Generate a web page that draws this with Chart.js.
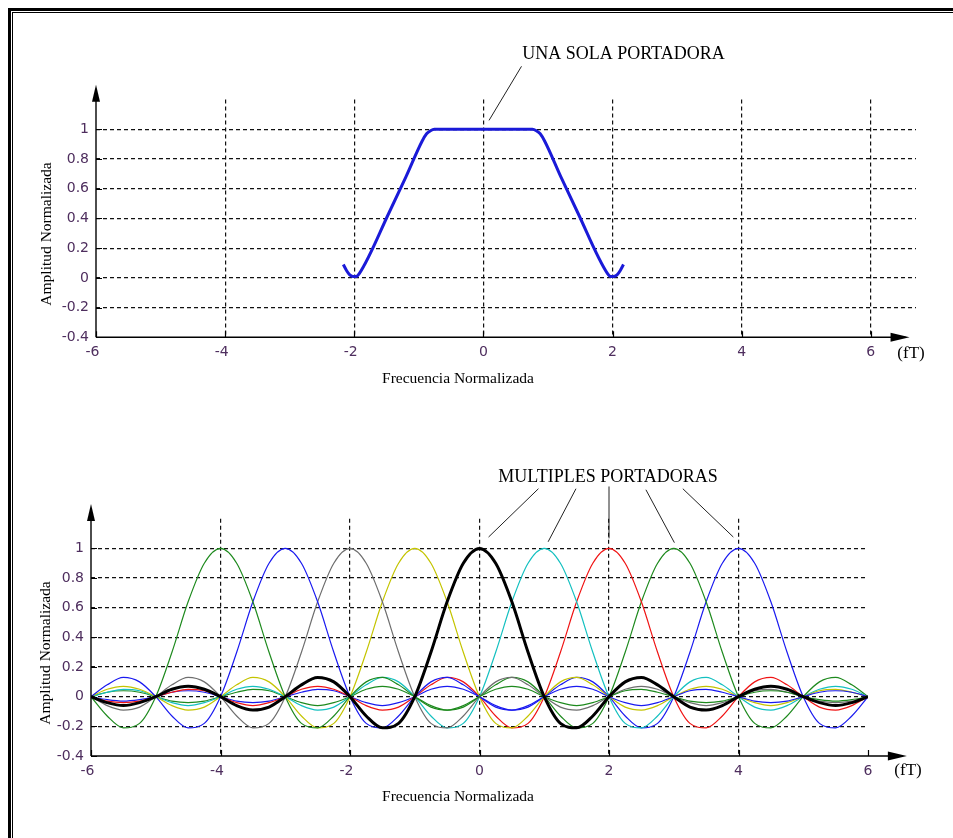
<!DOCTYPE html>
<html>
<head>
<meta charset="utf-8">
<script src="https://cdn.jsdelivr.net/npm/chart.js@4.4.1/dist/chart.umd.min.js"></script>
<style>
  html, body { margin: 0; background: #fff; overflow: hidden; width: 953px; height: 838px; }
  .frame-out { position: absolute; left: 8px; top: 8px; width: 1000px; height: 900px;
               border-left: 3px solid #000; border-top: 3px solid #000; }
  .frame-in { position: absolute; left: 12px; top: 12px; width: 1000px; height: 900px;
              border-left: 1px solid #000; border-top: 1px solid #000; }
  canvas { position: absolute; left: 0; }
  #top { top: 0; }
  #bottom { top: 419px; }
</style>
</head>
<body>
<div class="frame-out"></div>
<div class="frame-in"></div>
<canvas id="top" width="953" height="419"></canvas>
<canvas id="bottom" width="953" height="419"></canvas>
<script>
// ---- data ----

// axis ticks (both panels)
const xTicks = [-6, -4, -2, 0, 2, 4, 6];
const yTicks = [-0.4, -0.2, 0, 0.2, 0.4, 0.6, 0.8, 1];

// top panel: single carrier spectrum
const singleX = [-2.17, -2.12, -2.07, -2.02, -1.97, -1.92, -1.46, -1.2, -0.95, -0.88, -0.82, -0.76, 0,
                 0.76, 0.82, 0.88, 0.95, 1.2, 1.46, 1.92, 1.97, 2.02, 2.07, 2.12, 2.17];
const singleY = [0.09, 0.05, 0.02, 0.01, 0.01, 0.03, 0.44, 0.68, 0.92, 0.97, 0.99, 1, 1,
                 1, 0.99, 0.97, 0.92, 0.68, 0.44, 0.03, 0.01, 0.01, 0.02, 0.05, 0.09];

// bottom panel: every carrier has the same shape as the black one (centred at 0),
// read every 0.25 from its centre outwards
const pulseStep = 0.25;
const pulseShape = [1, 0.90, 0.64, 0.30, 0, -0.18, -0.21, -0.13, 0, 0.10, 0.13, 0.08,
                    0, -0.07, -0.09, -0.06, 0, 0.05, 0.07, 0.05, 0, -0.04, -0.06, -0.04,
                    0, 0.04, 0.05, 0.03, 0, -0.03, -0.04, -0.03, 0, 0.03, 0.04, 0.03,
                    0, -0.02, -0.03, -0.02, 0];
const carriers = [-4, -3, -2, -1, 0, 1, 2, 3, 4];

// styles
const carrierColors = ['#1e8a1e', '#1a1af0', '#6e6e6e', '#c4c400', '#000000', '#14c0c0', '#f01414', '#1e8a1e', '#1a1af0'];
const carrierWidths = [1.2, 1.2, 1.2, 1.2, 3, 1.2, 1.2, 1.2, 1.2];
const tickColor = '#4e2e5e';

// build the points of one carrier from the shared shape
function carrierPoints(c) {
    const pts = [];
    const n = pulseShape.length;
    for (let i = -(n - 1); i <= n - 1; i++) {
        const x = c + i * pulseStep;
        if (x < -6 - 1e-9 || x > 6 + 1e-9) continue;
        pts.push({ x: x, y: pulseShape[Math.abs(i)] });
    }
    return pts;
}

// axes with arrows, inner ticks, titles and the call-out
const decoPlugin = {
    id: 'deco',
    afterDraw(chart, args, o) {
        const { ctx, chartArea: a, scales: { x, y } } = chart;
        const x0 = a.left, y0 = a.bottom;
        ctx.save();
        ctx.strokeStyle = '#000';
        ctx.fillStyle = '#000';
        ctx.lineWidth = 1.4;

        // y axis + arrow
        const yTip = y.getPixelForValue(1.3);
        ctx.beginPath();
        ctx.moveTo(x0, y0);
        ctx.lineTo(x0, yTip + 4);
        ctx.stroke();
        ctx.beginPath();
        ctx.moveTo(x0, yTip);
        ctx.lineTo(x0 - 4, yTip + 17);
        ctx.lineTo(x0 + 4, yTip + 17);
        ctx.closePath();
        ctx.fill();

        // x axis + arrow
        const xTip = x.getPixelForValue(6.6);
        ctx.beginPath();
        ctx.moveTo(x0, y0);
        ctx.lineTo(xTip - 4, y0);
        ctx.stroke();
        ctx.beginPath();
        ctx.moveTo(xTip, y0);
        ctx.lineTo(xTip - 19, y0 - 4.5);
        ctx.lineTo(xTip - 19, y0 + 4.5);
        ctx.closePath();
        ctx.fill();

        // small solid ticks inside the axes
        ctx.lineWidth = 1.2;
        ctx.beginPath();
        yTicks.forEach(v => {
            const py = Math.round(y.getPixelForValue(v)) + 0.5;
            ctx.moveTo(x0, py);
            ctx.lineTo(x0 + 6, py);
        });
        xTicks.forEach(v => {
            const px = Math.round(x.getPixelForValue(v)) + 0.5;
            ctx.moveTo(px, y0);
            ctx.lineTo(px, y0 - 6);
        });
        ctx.stroke();

        // axis titles
        ctx.font = '15.5px "Liberation Serif"';
        ctx.textAlign = 'center';
        ctx.textBaseline = 'middle';
        ctx.fillText('Frecuencia Normalizada', o.xTitle[0], o.xTitle[1]);
        ctx.font = '17px "Liberation Serif"';
        ctx.fillText('(fT)', o.unit[0], o.unit[1]);
        ctx.save();
        ctx.translate(o.yTitle[0], o.yTitle[1]);
        ctx.rotate(-Math.PI / 2);
        ctx.font = '15.5px "Liberation Serif"';
        ctx.fillText('Amplitud Normalizada', 0, 0);
        ctx.restore();

        // call-out text and leader lines (in data units)
        ctx.font = '18px "Liberation Serif"';
        ctx.textAlign = o.note.align;
        ctx.textBaseline = 'alphabetic';
        ctx.fillText(o.note.text, x.getPixelForValue(o.note.x), y.getPixelForValue(o.note.y));
        ctx.strokeStyle = '#222';
        ctx.lineWidth = 1;
        ctx.beginPath();
        o.note.lines.forEach(l => {
            ctx.moveTo(x.getPixelForValue(l[0]), y.getPixelForValue(l[1]));
            ctx.lineTo(x.getPixelForValue(l[2]), y.getPixelForValue(l[3]));
        });
        ctx.stroke();
        ctx.restore();
    }
};

function makeScales(xMax, gridX) {
    return {
        x: {
            type: 'linear', min: -6, max: xMax,
            afterBuildTicks: s => { s.ticks = xTicks.map(v => ({ value: v })); },
            afterFit: s => { s.height = 40; },
            // negative labels sit with the digit on the tick, the minus hanging left
            ticks: { color: tickColor, font: { family: 'DejaVu Sans', size: 14 }, padding: 7,
                     maxRotation: 0, autoSkip: false,
                     callback: v => v < 0 ? String(v) + '\u2002' : String(v) },
            grid: { drawTicks: false, lineWidth: 1.2,
                    color: c => (c.tick && gridX.includes(c.tick.value)) ? '#111' : 'rgba(0,0,0,0)' },
            border: { display: false, dash: [4, 3] }
        },
        y: {
            type: 'linear', min: -0.4, max: 1.2,
            afterBuildTicks: s => { s.ticks = yTicks.map(v => ({ value: v })); },
            afterFit: s => { s.width = 60; },
            ticks: { color: tickColor, font: { family: 'DejaVu Sans', size: 14 }, padding: 7,
                     callback: v => String(v) },
            grid: { drawTicks: false, lineWidth: 1.2,
                    color: c => (c.tick && c.tick.value > -0.3) ? '#111' : 'rgba(0,0,0,0)' },
            border: { display: false, dash: [4, 3] }
        }
    };
}

Chart.register(decoPlugin);

// top panel
new Chart(document.getElementById('top'), {
    type: 'line',
    data: {
        datasets: [{
            data: singleX.map((v, i) => ({ x: v, y: singleY[i] })),
            borderColor: '#1a1ad8', borderWidth: 3, pointRadius: 0,
            cubicInterpolationMode: 'monotone'
        }]
    },
    options: {
        responsive: false, animation: false,
        layout: { padding: { left: 36, right: 37, top: 99.6, bottom: 41.7 } },
        scales: makeScales(6.7, [-4, -2, 0, 2, 4, 6]),
        plugins: {
            legend: { display: false }, tooltip: { enabled: false },
            deco: {
                xTitle: [458, 379], yTitle: [47, 234], unit: [911, 354],
                note: { text: 'UNA SOLA PORTADORA', x: 0.6, y: 1.476, align: 'left',
                        lines: [[0.59, 1.424, 0.087, 1.06]] }
            }
        }
    }
});

// bottom panel
new Chart(document.getElementById('bottom'), {
    type: 'line',
    data: {
        datasets: carriers.map((c, i) => ({
            data: carrierPoints(c),
            borderColor: carrierColors[i], borderWidth: carrierWidths[i], pointRadius: 0,
            cubicInterpolationMode: 'monotone',
            order: c === 0 ? 0 : 1
        }))
    },
    options: {
        responsive: false, animation: false,
        layout: { padding: { left: 31, right: 85, top: 99.8, bottom: 42 } },
        scales: makeScales(6, [-4, -2, 0, 2, 4]),
        plugins: {
            legend: { display: false }, tooltip: { enabled: false },
            deco: {
                xTitle: [458, 378], yTitle: [46, 234], unit: [908, 352],
                note: { text: 'MULTIPLES PORTADORAS', x: 1.985, y: 1.445, align: 'center',
                        lines: [[0.91, 1.403, 0.14, 1.077], [1.49, 1.403, 1.06, 1.045],
                                [2.0, 1.418, 2.0, 1.068], [2.57, 1.396, 3.01, 1.039],
                                [3.14, 1.403, 3.92, 1.077]] }
            }
        }
    }
});
</script>
</body>
</html>
